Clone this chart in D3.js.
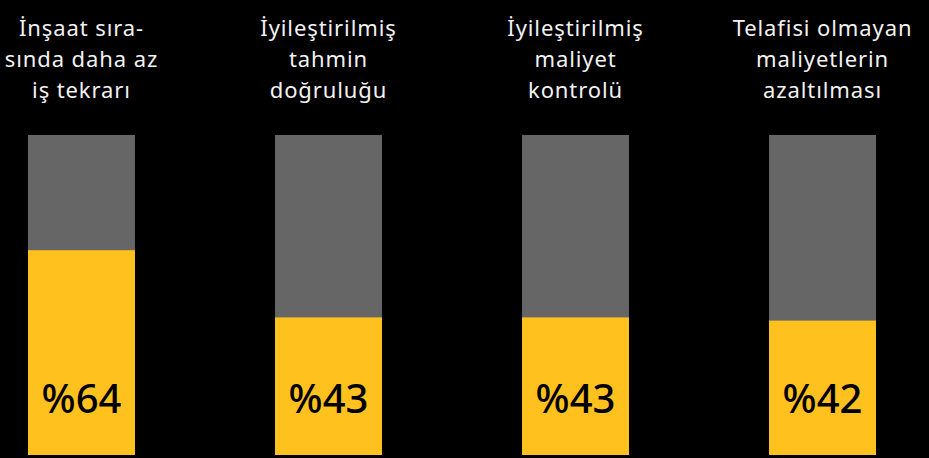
<!DOCTYPE html>
<html>
<head>
<meta charset="utf-8">
<script src="https://cdn.jsdelivr.net/npm/d3@7"></script>
<style>
	body { margin: 0; background: #000; }
	svg { display: block; }
</style>
</head>
<body>
<svg></svg>
<script>
const categories = [
	['İnşaat sıra-', 'sında daha az', 'iş tekrarı'],
	['İyileştirilmiş', 'tahmin', 'doğruluğu'],
	['İyileştirilmiş', 'maliyet', 'kontrolü'],
	['Telafisi olmayan', 'maliyetlerin', 'azaltılması']
];
const values = [64, 43, 43, 42];
const valueLabels = ['%64', '%43', '%43', '%42'];

var width = 929, height = 458;
var barTop = 135, barBottom = 455;

let svg = d3.select('svg')
	.attr('width', width)
	.attr('height', height);

let x = d3.scaleBand()
	.domain(d3.range(values.length))
	.range([28, 876])
	.paddingInner(0.567)
	.paddingOuter(0);

let y = d3.scaleLinear()
	.domain([0, 100])
	.range([barBottom, barTop]);

let g = svg.selectAll('g.bar')
	.data(values)
	.join('g')
	.attr('class', 'bar');

// full 100% background
g.append('rect')
	.attr('x', (d, i) => x(i))
	.attr('width', x.bandwidth())
	.attr('y', y(100))
	.attr('height', y(0) - y(100))
	.attr('fill', '#666666');

g.append('rect')
	.attr('x', (d, i) => x(i))
	.attr('width', x.bandwidth())
	.attr('y', d => y(d))
	.attr('height', d => y(0) - y(d))
	.attr('fill', '#FFC11E');

g.append('text')
	.attr('x', (d, i) => x(i) + x.bandwidth() / 2)
	.attr('y', 413)
	.attr('text-anchor', 'middle')
	.attr('font-family', 'Noto Sans, sans-serif')
	.attr('font-weight', 500)
	.attr('font-size', 40)
	.attr('fill', '#000')
	.text((d, i) => valueLabels[i]);

g.append('text')
	.attr('text-anchor', 'middle')
	.attr('font-family', 'Noto Sans, sans-serif')
	.attr('font-size', 22)
	.attr('letter-spacing', 0.9)
	.attr('fill', '#f2f2f2')
	.selectAll('tspan')
	.data((d, i) => categories[i].map(t => ({ t, i })))
	.join('tspan')
	.attr('x', d => x(d.i) + x.bandwidth() / 2)
	.attr('y', (d, j) => 36 + j * 31)
	.text(d => d.t);
</script>
</body>
</html>
